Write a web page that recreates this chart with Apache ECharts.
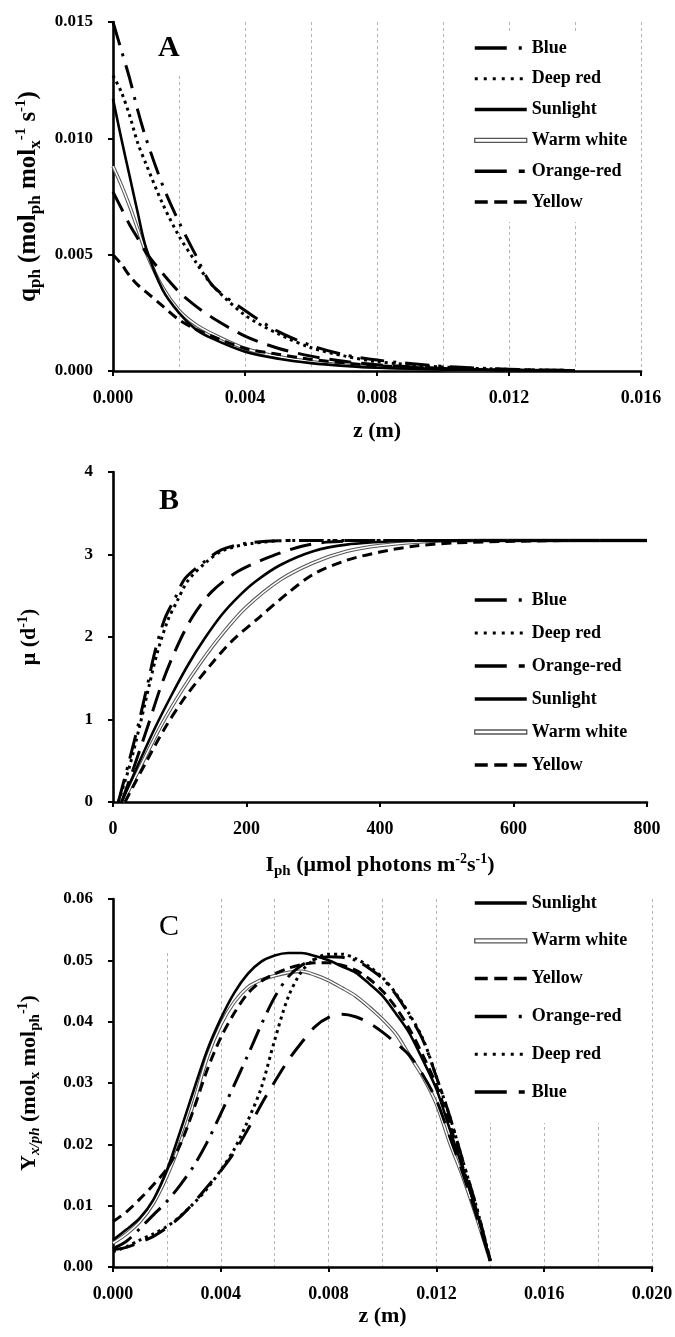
<!DOCTYPE html>
<html>
<head>
<meta charset="utf-8">
<script src="https://cdn.jsdelivr.net/npm/echarts/dist/echarts.min.js"></script>
<style>
html,body{margin:0;padding:0;background:#fff;}
#c{width:675px;height:1337px;}
</style>
</head>
<body>
<div id="c"></div>
<script>
// ---------------- Panel A data: q_ph vs z ----------------
const zA = [0, 0.00025, 0.0005, 0.00075, 0.001, 0.0015, 0.002, 0.0025, 0.003, 0.004, 0.005, 0.006, 0.007, 0.008, 0.010, 0.012, 0.014];
const qBlue   = [0.0150, 0.0138, 0.0126, 0.0112, 0.0100, 0.0080, 0.0064, 0.0050, 0.0037, 0.0026, 0.0017, 0.0011, 0.0007, 0.00047, 0.0002, 0.00008, 0.00002];
const qDeep   = [0.0127, 0.0120, 0.0110, 0.0098, 0.0089, 0.0072, 0.0058, 0.0047, 0.0037, 0.0024, 0.0016, 0.0010, 0.00065, 0.0004, 0.00017, 0.00007, 0.00002];
const qSun    = [0.0117, 0.0100, 0.0084, 0.0068, 0.0053, 0.0035, 0.0025, 0.0018, 0.0014, 0.00083, 0.00053, 0.00034, 0.00022, 0.00014, 0.00006, 0.00002, 0.00001];
const qWarm   = [0.0088, 0.0080, 0.0071, 0.0061, 0.0051, 0.0036, 0.0026, 0.0020, 0.0016, 0.00097, 0.00062, 0.0004, 0.00026, 0.00017, 0.00007, 0.00003, 0.00001];
const qOrange = [0.0077, 0.0070, 0.0063, 0.0057, 0.0051, 0.0042, 0.0034, 0.0028, 0.0023, 0.0015, 0.00098, 0.00064, 0.00042, 0.00027, 0.00011, 0.00004, 0.00001];
const qYellow = [0.0050, 0.0046, 0.0041, 0.0037, 0.0034, 0.0028, 0.0022, 0.0018, 0.0015, 0.00097, 0.00072, 0.0005, 0.00035, 0.00023, 0.0001, 0.00004, 0.00001];

// ---------------- Panel B data: mu vs I_ph ----------------
const iBlue   = [8, 23, 38, 53, 63, 78, 93, 108, 138, 163, 203, 263, 400, 800];
const muBlue  = [0, 0.46, 0.94, 1.47, 1.83, 2.23, 2.47, 2.71, 2.92, 3.06, 3.14, 3.17, 3.17, 3.17];
const iDeep   = [8, 25, 40, 55, 66, 82, 97, 112, 140, 165, 205, 265, 400, 800];
const muDeep  = [0, 0.44, 0.92, 1.44, 1.80, 2.20, 2.45, 2.68, 2.91, 3.05, 3.13, 3.17, 3.17, 3.17];
const iOrange = [13, 33, 53, 73, 93, 118, 148, 188, 238, 283, 320, 400, 800];
const muOrange= [0, 0.46, 0.94, 1.43, 1.83, 2.23, 2.55, 2.80, 2.98, 3.10, 3.15, 3.17, 3.17];
const iSun    = [13, 38, 63, 88, 113, 138, 163, 188, 213, 250, 300, 350, 425, 500, 800];
const muSun   = [0, 0.46, 0.90, 1.30, 1.67, 1.99, 2.27, 2.49, 2.67, 2.87, 3.04, 3.12, 3.16, 3.17, 3.17];
const iWarm   = [15, 43, 73, 103, 133, 163, 198, 250, 300, 350, 400, 475, 550, 800];
const muWarm  = [0, 0.46, 0.94, 1.35, 1.71, 2.03, 2.35, 2.69, 2.90, 3.04, 3.11, 3.16, 3.17, 3.17];
const iYellow = [18, 48, 78, 108, 143, 178, 218, 260, 300, 350, 400, 450, 510, 600, 700, 800];
const muYellow= [0, 0.46, 0.90, 1.27, 1.63, 1.95, 2.23, 2.52, 2.76, 2.93, 3.03, 3.10, 3.14, 3.16, 3.17, 3.17];

// ---------------- Panel C data: Y_x/ph vs z ----------------
const zC = [0, 0.0005, 0.001, 0.0015, 0.002, 0.0025, 0.003, 0.0035, 0.004, 0.0045, 0.005, 0.0055, 0.006, 0.0065, 0.007, 0.0075, 0.008, 0.0085, 0.009, 0.0095, 0.010, 0.0105, 0.011, 0.0115, 0.012, 0.0125, 0.013, 0.0135, 0.014];
const ySun    = [0.0044,0.0061,0.0080,0.0110,0.0158,0.0222,0.0289,0.0354,0.0405,0.0447,0.0478,0.0498,0.0508,0.0512,0.0512,0.0507,0.0500,0.0490,0.0480,0.0462,0.0442,0.0413,0.0381,0.0337,0.0290,0.0224,0.0158,0.0088,0.0010];
const yWarm   = [0.0039,0.0054,0.0074,0.0104,0.0148,0.0203,0.0268,0.0342,0.0395,0.0432,0.0456,0.0468,0.0475,0.0480,0.0482,0.0476,0.0467,0.0455,0.0442,0.0424,0.0404,0.0380,0.0345,0.0310,0.0266,0.0202,0.0145,0.0080,0.0010];
const yYellow = [0.0074,0.0090,0.0111,0.0134,0.0160,0.0200,0.0258,0.0322,0.0374,0.0414,0.0446,0.0466,0.0478,0.0487,0.0493,0.0496,0.0496,0.0492,0.0484,0.0470,0.0450,0.0423,0.0388,0.0345,0.0296,0.0232,0.0160,0.0090,0.0010];
const yOrange = [0.0030,0.0042,0.0063,0.0085,0.0107,0.0134,0.0165,0.0204,0.0250,0.0297,0.0345,0.0395,0.0440,0.0473,0.0492,0.0502,0.0506,0.0505,0.0500,0.0487,0.0470,0.0444,0.0410,0.0370,0.0310,0.0245,0.0170,0.0096,0.0010];
const yDeep   = [0.0025,0.0033,0.0044,0.0054,0.0066,0.0083,0.0104,0.0128,0.0158,0.0192,0.0238,0.0292,0.0370,0.0440,0.0482,0.0502,0.0510,0.0510,0.0503,0.0490,0.0472,0.0446,0.0412,0.0372,0.0310,0.0245,0.0170,0.0096,0.0010];
const yBlue   = [0.0028,0.0032,0.0040,0.0050,0.0064,0.0082,0.0105,0.0131,0.0157,0.0187,0.0224,0.0265,0.0302,0.0337,0.0366,0.0392,0.0407,0.0412,0.0408,0.0398,0.0383,0.0365,0.0345,0.0313,0.0272,0.0212,0.0150,0.0082,0.0010];

// ---------------- tick labels ----------------
const yTicksA = ['0.000','0.005','0.010','0.015'];
const yTicksB = ['0','1','2','3','4'];
const yTicksC = ['0.00','0.01','0.02','0.03','0.04','0.05','0.06'];

const F = 'Liberation Serif';
const chart = echarts.init(document.getElementById('c'), null, {renderer:'canvas'});

const pair = (xs, ys) => xs.map((x, i) => [x, ys[i]]);
function line(name, xs, ys, gi, ls, z) {
  return {
    type: 'line', name: name, xAxisIndex: gi, yAxisIndex: gi,
    data: pair(xs, ys), symbol: 'none', showSymbol: false,
    smooth: 0.3, silent: true, z: z || 2, color: '#000',
    itemStyle: {color: '#000'},
    lineStyle: Object.assign({color: '#000', cap: 'butt', join: 'round'}, ls)
  };
}
function warm(xs, ys, gi) {
  return [
    line('Warm white', xs, ys, gi, {color: '#555', width: 3.6, type: 'solid'}, 2),
    line('Warm white', xs, ys, gi, {color: '#fff', width: 1.5, type: 'solid'}, 2)
  ];
}

const S_SOLID = {width: 2.6, type: 'solid'};
const S_BLUE_AB = {width: 3, type: [24, 9, 3, 9]};
const S_DEEP = {width: 3, type: [3, 4]};
const S_OR_AB = {width: 3, type: [22, 10]};
const S_YEL = {width: 3, type: [10, 6]};
const S_OR_C = {width: 3, type: [22, 8, 3, 8]};
const S_BLUE_C = {width: 3, type: [22, 12]};

const WW_ICON = 'path://M0,0 L52,0 L52,4 L0,4 Z';
const HIDE = {opacity: 0, color: '#000'};
const L_BLUE = {name: 'Blue', itemStyle: HIDE, lineStyle: {type: [32, 12, 3, 30], width: 3.5, color: '#000'}};
const L_DEEP = {name: 'Deep red', itemStyle: HIDE, lineStyle: {type: [3, 6], width: 3, color: '#000'}};
const L_SUN = {name: 'Sunlight', itemStyle: HIDE, lineStyle: {type: 'solid', width: 3.5, color: '#000'}};
const L_WARM = {name: 'Warm white', icon: WW_ICON, itemStyle: {color: '#fff', borderColor: '#555', borderWidth: 1.3, opacity: 1}};
const L_OR = {name: 'Orange-red', itemStyle: HIDE, lineStyle: {type: [32, 12, 6, 30], width: 3.5, color: '#000'}};
const L_YEL = {name: 'Yellow', itemStyle: HIDE, lineStyle: {type: [13, 6.5], width: 3.5, color: '#000'}};
const L_OR_C = {name: 'Orange-red', itemStyle: HIDE, lineStyle: {type: [32, 12, 3, 30], width: 3.5, color: '#000'}};
const L_BLUE_C = {name: 'Blue', itemStyle: HIDE, lineStyle: {type: [32, 12, 6, 30], width: 3.5, color: '#000'}};

const txt = {fontFamily: F, fontWeight: 'bold', color: '#000'};
function mkRich(main, sub, sup, lh) {
  return {
    m: {fontFamily: F, fontWeight: 'bold', fontSize: main, color: '#000', lineHeight: lh},
    sub: {fontFamily: F, fontWeight: 'bold', fontSize: sub, color: '#000', verticalAlign: 'bottom'},
    subi: {fontFamily: F, fontWeight: 'bold', fontStyle: 'italic', fontSize: sub, color: '#000', verticalAlign: 'bottom'},
    sup: {fontFamily: F, fontWeight: 'bold', fontSize: sup, color: '#000', verticalAlign: 'top'}
  };
}
const rich = mkRich(22, 15, 14, 27);
const richA = mkRich(25, 17, 15, 30);
const grid0 = {color: '#b5b5b5', width: 1, type: [3, 3]};

function legend(top, gap, pad, data, bg) {
  return {
    orient: 'vertical', left: 463, top: top, itemGap: gap, padding: pad,
    itemWidth: 52, itemHeight: 14, backgroundColor: bg ? '#fff' : 'transparent',
    selectedMode: false, data: data, z: 5,
    textStyle: Object.assign({fontSize: 18, lineHeight: 18}, txt)
  };
}
function xAx(gi, max, interval, gridLines, nameStr, gap, digits) {
  return {
    gridIndex: gi, type: 'value', min: 0, max: max, interval: interval,
    name: nameStr, nameLocation: 'middle', nameGap: gap,
    nameTextStyle: {rich: rich, fontFamily: F, fontWeight: 'bold', fontSize: 22, color: '#000'},
    axisLine: {show: true, onZero: false, lineStyle: {color: '#000', width: 2.6}},
    axisTick: {show: true, inside: false, length: 5, lineStyle: {color: '#000', width: 2}},
    axisLabel: Object.assign({fontSize: 18, margin: 18, formatter: v => v.toFixed(digits)}, txt),
    splitLine: {show: gridLines, lineStyle: grid0},
    minorTick: {show: false, splitNumber: 2},
    minorSplitLine: {show: gridLines, lineStyle: grid0}
  };
}
function yAx(gi, max, interval, ticks, nameStr, r, gap) {
  return {
    gridIndex: gi, type: 'value', min: 0, max: max, interval: interval,
    name: nameStr, nameLocation: 'middle', nameGap: gap, nameRotate: 90,
    nameTextStyle: {rich: r, fontFamily: F, fontWeight: 'bold', fontSize: 22, color: '#000'},
    axisLine: {show: true, onZero: false, lineStyle: {color: '#000', width: 2.6}},
    axisTick: {show: true, inside: false, length: 5, lineStyle: {color: '#000', width: 2}},
    axisLabel: Object.assign({fontSize: 17, margin: 20, formatter: v => ticks[Math.round(v / interval)]}, txt),
    splitLine: {show: false}
  };
}
function panelTitle(t, left, top, pad, bold) {
  return {
    text: t, left: left, top: top, padding: pad, backgroundColor: '#fff', z: 6,
    textStyle: {fontFamily: F, fontWeight: bold ? 'bold' : 'normal', fontSize: 30, lineHeight: 28, color: '#000'}
  };
}

const option = {
  animation: false,
  backgroundColor: '#fff',
  title: [
    panelTitle('A', 150, 22, [12, 9, 12, 8], true),
    panelTitle('B', 151, 475, [12, 10, 12, 8], true),
    panelTitle('C', 151, 899, [14, 12, 10, 8], false)
  ],
  grid: [
    {left: 113, top: 22, width: 528, height: 349, outerBoundsMode: 'none'},
    {left: 113, top: 472, width: 534, height: 330, outerBoundsMode: 'none'},
    {left: 113, top: 899, width: 539, height: 368, outerBoundsMode: 'none'}
  ],
  legend: [
    legend(33, 12.8, [6, 3, 11, 10], [L_BLUE, L_DEEP, L_SUN, L_WARM, L_OR, L_YEL], true),
    legend(591, 15, [0, 3, 0, 10], [L_BLUE, L_DEEP, L_OR, L_SUN, L_WARM, L_YEL], false),
    legend(894, 19.8, [0, 5, 22, 10], [L_SUN, L_WARM, L_YEL, L_OR_C, L_DEEP, L_BLUE_C], true)
  ],
  xAxis: [
    xAx(0, 0.016, 0.004, true, 'z (m)', 49, 3),
    xAx(1, 800, 200, false, '{m|I}{sub|ph}{m| (μmol photons m}{sup|-2}{m|s}{sup|-1}{m|)}', 50, 0),
    xAx(2, 0.020, 0.004, true, 'z (m)', 38, 3)
  ],
  yAxis: [
    yAx(0, 0.015, 0.005, yTicksA, '{m|q}{sub|ph}{m| (mol}{sub|ph}{m| mol}{sub|x}{sup|-1}{m| s}{sup|-1}{m|)}', richA, 68),
    yAx(1, 4, 1, yTicksB, '{m|μ (d}{sup|-1}{m|)}', rich, 70),
    yAx(2, 0.06, 0.01, yTicksC, '{m|Υ}{subi|x/ph}{m| (mol}{sub|x}{m| mol}{sub|ph}{sup|-1}{m|)}', rich, 70)
  ],
  series: [
    // Panel A
    ...warm(zA, qWarm, 0),
    line('Yellow', zA, qYellow, 0, S_YEL),
    line('Orange-red', zA, qOrange, 0, S_OR_AB),
    line('Sunlight', zA, qSun, 0, S_SOLID),
    line('Deep red', zA, qDeep, 0, S_DEEP),
    line('Blue', zA, qBlue, 0, S_BLUE_AB),
    // Panel B
    ...warm(iWarm, muWarm, 1),
    line('Yellow', iYellow, muYellow, 1, S_YEL),
    line('Orange-red', iOrange, muOrange, 1, S_OR_AB),
    line('Sunlight', iSun, muSun, 1, S_SOLID),
    line('Deep red', iDeep, muDeep, 1, S_DEEP),
    line('Blue', iBlue, muBlue, 1, S_BLUE_AB),
    // Panel C
    ...warm(zC, yWarm, 2),
    line('Yellow', zC, yYellow, 2, S_YEL),
    line('Orange-red', zC, yOrange, 2, S_OR_C),
    line('Sunlight', zC, ySun, 2, S_SOLID),
    line('Deep red', zC, yDeep, 2, S_DEEP),
    line('Blue', zC, yBlue, 2, S_BLUE_C)
  ]
};
chart.setOption(option);
</script>
</body>
</html>
